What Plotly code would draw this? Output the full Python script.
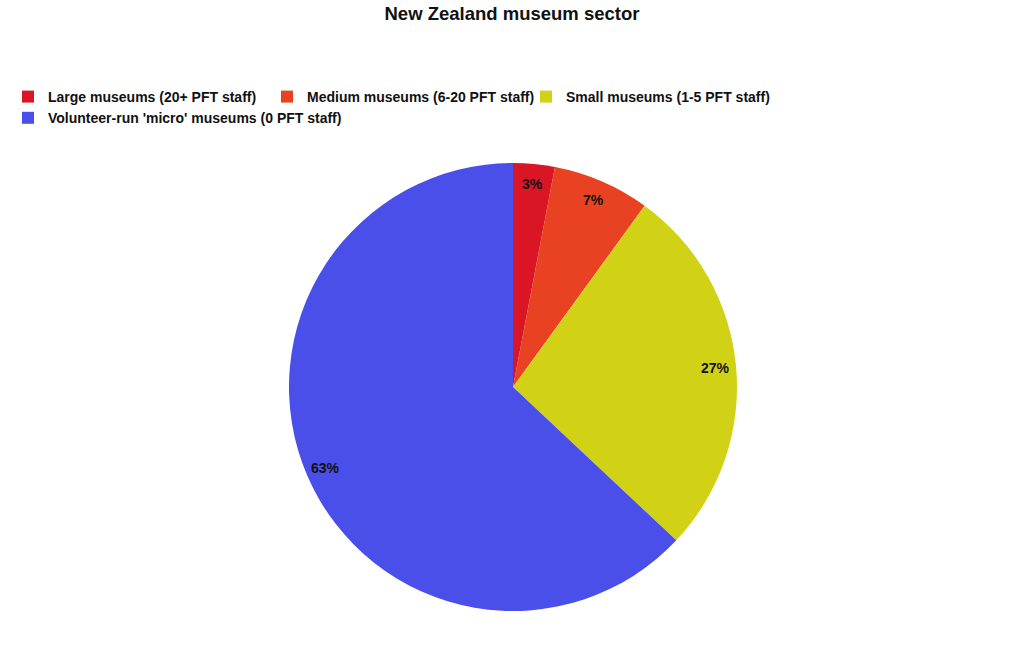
import math
import plotly.graph_objects as go

categories = [
    "Large museums (20+ PFT staff)",
    "Medium museums (6-20 PFT staff)",
    "Small museums (1-5 PFT staff)",
    "Volunteer-run 'micro' museums (0 PFT staff)",
]
values = [3, 7, 27, 63]
colors = ["#DA1526", "#E94222", "#D1D116", "#4B4FE9"]

W, H = 1024, 666
cx, cy, R = 513, 387, 224  # pie center / radius in pixels

dom_x = [(cx - R) / W, (cx + R) / W]
dom_y = [(H - cy - R) / H, (H - cy + R) / H]

fig = go.Figure(go.Pie(
    labels=categories,
    values=values,
    marker=dict(colors=colors, line=dict(width=0)),
    sort=False,
    direction="clockwise",
    rotation=0,
    textinfo="none",
    hoverinfo="label+percent",
    domain=dict(x=dom_x, y=dom_y),
))

# percentage labels placed near the outer edge of each slice (computed from data)
total = sum(values)
cum = 0
annots = []
for v in values:
    mid = (cum + v / 2) / total * 2 * math.pi
    cum += v
    r = 0.91 * R
    px = cx + r * math.sin(mid)
    py = cy - r * math.cos(mid)
    annots.append(dict(
        x=px / W, y=1 - py / H, xref="paper", yref="paper",
        text="<b>%d%%</b>" % round(v / total * 100),
        showarrow=False, font=dict(size=14, color="#111111", family="Liberation Sans, Arial"),
        xanchor="center", yanchor="middle",
    ))

fig.update_layout(
    width=W, height=H,
    margin=dict(l=0, r=0, t=0, b=0),
    paper_bgcolor="white",
    plot_bgcolor="white",
    font=dict(family="Liberation Sans, Arial", color="#111111"),
    title=dict(
        text="<b>New Zealand museum sector</b>",
        x=0.5, xanchor="center", y=1 - 14 / H, yanchor="middle",
        font=dict(size=18.5, color="#111111"),
    ),
    showlegend=True,
    legend=dict(
        orientation="h",
        x=8 / W, xanchor="left",
        y=1 - 81 / H, yanchor="top",
        font=dict(size=14, color="#111111", family="Liberation Sans, Arial", weight="bold"),
        itemwidth=30,
        entrywidth=214,
        tracegroupgap=0,
        traceorder="normal",
    ),
    annotations=annots,
)

fig.write_html("out.html", config={"displayModeBar": False},
               post_script="document.body.style.margin='0';")
